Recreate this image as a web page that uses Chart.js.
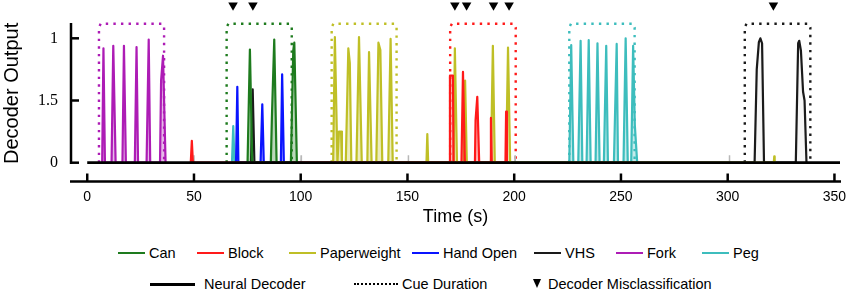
<!DOCTYPE html>
<html>
<head>
<meta charset="utf-8">
<script src="https://cdn.jsdelivr.net/npm/chart.js@4.4.1/dist/chart.umd.min.js"></script>
<style>
  html, body { margin: 0; padding: 0; background: #fff; }
  #wrap { position: relative; width: 851px; height: 292px; overflow: hidden; }
  #chart { position: absolute; left: 0; top: 0; }
  .txt { position: absolute; font-family: "Liberation Sans", Arial, sans-serif; font-size: 14.5px; line-height: 16px; color: #000; white-space: nowrap; }
  .sw { position: absolute; height: 0; }
</style>
</head>
<body>
<div id="wrap">
  <canvas id="chart" width="851" height="230"></canvas>
  <div id="legend"></div>
</div>
<script>
// --- data (time in s, decoder output) ---
const xTicks = [0, 50, 100, 150, 200, 250, 300, 350];
const yTickValues = [0, 0.5, 1];
const yTickLabels = ['0', '1.5', '1'];
const yAxisTop = 1.123;

const classNames = ['Can', 'Block', 'Paperweight', 'Hand Open', 'VHS', 'Fork', 'Peg'];
const classColors = ['#1e7b1e', '#ff1a1a', '#bfbf26', '#0a14ff', '#1a1a1a', '#ad1cb5', '#3dbdbd'];
const classFills = ['rgba(30,123,30,0.3)', 'rgba(255,26,26,0.3)', 'rgba(191,191,38,0.3)', 'rgba(10,20,255,0.3)', 'rgba(26,26,26,0.04)', 'rgba(173,28,181,0.3)', 'rgba(61,189,189,0.3)'];

const canTrace = [
  [75.1, 0], [76.2, 0.91], [77.3, 0],
  [86.0, 0], [86.5, 0.36], [87.6, 0.99], [88.7, 0],
  [95.4, 0], [96.5, 0.9], [97.0, 0.965], [98.2, 0]
];
const blockTrace = [
  [48.5, 0], [49.0, 0.175], [49.5, 0],
  [169.7, 0], [169.9, 0.70], [171.3, 0.70], [171.6, 0],
  [175.3, 0], [176.0, 0.73], [176.9, 0],
  [181.6, 0], [181.9, 0.34], [182.7, 0.53], [183.6, 0],
  [188.8, 0], [189.1, 0.36], [189.5, 0],
  [195.9, 0], [196.2, 0.41], [196.6, 0]
];
const paperweightTrace = [
  [115.2, 0], [116.0, 1.01], [117.2, 0], [117.9, 0.25], [118.9, 0.25], [119.3, 0],
  [121.1, 0], [122.3, 0.92], [123.0, 0.8], [123.7, 0],
  [126.1, 0], [127.3, 1.01], [128.6, 0],
  [131.2, 0], [132.0, 0.89], [133.2, 0],
  [135.4, 0], [136.4, 0.965], [137.3, 0.905], [138.2, 0],
  [141.0, 0], [142.1, 0.995], [143.1, 0],
  [158.9, 0], [159.3, 0.23], [159.7, 0],
  [171.6, 0], [172.2, 0.92], [173.2, 0],
  [176.4, 0], [177.0, 0.66], [177.8, 0],
  [189.1, 0], [190.0, 0.94], [190.9, 0],
  [196.2, 0], [197.1, 0.925], [198.1, 0],
  [321.6, 0], [321.8, 0.05], [322.0, 0]
];
const handOpenTrace = [
  [69.7, 0], [70.3, 0.61], [70.8, 0],
  [81.2, 0], [82.0, 0.47], [82.7, 0],
  [90.7, 0], [91.3, 0.71], [92.1, 0]
];
const vhsTrace = [
  [76.7, 0], [77.5, 0.59], [78.3, 0],
  [312.6, 0], [313.6, 0.75], [314.6, 0.97], [315.3, 1.0], [316.1, 0.96], [317.0, 0],
  [331.9, 0], [333.0, 0.96], [333.5, 0.98], [334.3, 0.9], [335.3, 0.57], [336.0, 0.5], [336.9, 0]
];
const forkTrace = [
  [7.0, 0], [7.6, 0.92], [8.3, 0],
  [11.4, 0], [12.2, 0.94], [13.3, 0],
  [16.5, 0], [17.2, 0.94], [18.1, 0],
  [22.3, 0], [23.1, 0.93], [23.8, 0],
  [27.8, 0], [28.8, 0.99], [29.5, 0],
  [34.1, 0], [34.6, 0.66], [35.5, 0.86], [36.7, 0]
];
const pegTrace = [
  [67.8, 0], [68.4, 0.295], [69.0, 0],
  [225.8, 0], [226.7, 0.946], [227.7, 0],
  [230.0, 0], [231.1, 0.98], [231.9, 0],
  [233.9, 0], [234.9, 0.985], [235.8, 0],
  [238.1, 0], [239.0, 0.96], [240.0, 0],
  [242.0, 0], [243.1, 0.94], [243.9, 0],
  [246.7, 0], [248.0, 0.955], [248.6, 0],
  [251.2, 0], [252.2, 1.0], [253.2, 0],
  [254.8, 0], [255.7, 0.94], [256.5, 0.3], [257.6, 0]
];
const restTrace = [
  [49.9, 0], [50.0, 0.06], [50.1, 0],
  [100.1, 0], [100.2, 0.06], [100.3, 0],
  [150.3, 0], [150.4, 0.06], [150.5, 0],
  [200.3, 0], [200.4, 0.06], [200.5, 0],
  [300.7, 0], [300.8, 0.06], [300.9, 0]
];
const traces = [canTrace, blockTrace, paperweightTrace, handOpenTrace, vhsTrace, forkTrace, pegTrace];

// cue windows: [start, end, class index]
const cueWindows = [
  [5.5, 36.0, 5],
  [65.3, 95.8, 0],
  [114.5, 144.9, 2],
  [170.0, 200.7, 1],
  [225.8, 256.4, 6],
  [308.0, 338.7, 4]
];
const cueTop = 1.117;

const decoderSpan = [0, 352.6];
const misclassTimes = [68.3, 77.6, 172.2, 177.7, 190.3, 197.6, 321.4];
const misclassLevel = 1.265;

// --- datasets ---
const toXY = pts => pts.map(p => ({ x: p[0], y: p[1] }));
const datasets = [];

datasets.push({
  label: 'Decoder Misclassification',
  data: misclassTimes.map(t => ({ x: t, y: misclassLevel })),
  showLine: false,
  pointStyle: 'triangle',
  pointRotation: 180,
  pointRadius: 5.5,
  pointBackgroundColor: '#000',
  pointBorderColor: '#000',
  pointBorderWidth: 0
});

datasets.push({
  label: 'Neural Decoder',
  data: decoderSpan.map(t => ({ x: t, y: 0 })),
  borderColor: '#000',
  borderWidth: 3,
  pointRadius: 0
});

traces.forEach((tr, i) => {
  datasets.push({
    label: classNames[i],
    data: toXY(tr),
    borderColor: classColors[i],
    backgroundColor: classFills[i],
    fill: 'origin',
    borderWidth: 2.2,
    borderJoinStyle: 'round',
    pointRadius: 0
  });
});
datasets.push({ label: 'rest', data: toXY(restTrace), borderColor: '#b8b8b8', borderWidth: 1.5, pointRadius: 0 });

cueWindows.forEach(w => {
  const [s, e, c] = w;
  datasets.push({
    label: 'Cue ' + classNames[c],
    data: toXY([[s, 0], [s, cueTop - 0.03], [s + 0.8, cueTop], [e - 0.8, cueTop], [e, cueTop - 0.03], [e, 0]]),
    borderColor: classColors[c],
    borderWidth: 2.4,
    borderDash: [2.4, 5.2],
    borderCapStyle: 'butt',
    pointRadius: 0
  });
});

// --- axis lines and inward ticks, placed through the scales ---
const axisMarks = {
  id: 'axisMarks',
  afterDraw(chart) {
    const { ctx, chartArea, scales } = chart;
    const x = scales.x, y = scales.y;
    ctx.save();
    ctx.strokeStyle = '#000';
    ctx.lineWidth = 2.5;
    const left = chartArea.left;
    ctx.beginPath(); ctx.moveTo(left, y.getPixelForValue(yAxisTop)); ctx.lineTo(left, chartArea.bottom); ctx.stroke();
    yTickValues.forEach(v => {
      const py = y.getPixelForValue(v);
      ctx.beginPath(); ctx.moveTo(left, py); ctx.lineTo(left + 8, py); ctx.stroke();
    });
    const axisY = chartArea.bottom + 17.5;
    ctx.beginPath(); ctx.moveTo(left - 1, axisY); ctx.lineTo(chartArea.right + 1, axisY); ctx.stroke();
    xTicks.forEach(v => {
      const px = x.getPixelForValue(v);
      ctx.beginPath(); ctx.moveTo(px, axisY); ctx.lineTo(px, axisY - 8); ctx.stroke();
    });
    ctx.restore();
  }
};

new Chart(document.getElementById('chart').getContext('2d'), {
  type: 'line',
  data: { datasets },
  options: {
    responsive: false,
    animation: false,
    events: [],
    layout: { padding: { top: 0, right: 11, left: 0, bottom: 0 }, autoPadding: false },
    plugins: { legend: { display: false }, tooltip: { enabled: false } },
    elements: { line: { tension: 0 } },
    scales: {
      x: {
        type: 'linear',
        min: -7.6,
        max: 352.6,
        afterBuildTicks: s => { s.ticks = xTicks.map(v => ({ value: v })); },
        afterFit: s => { s.height = 66; s.paddingLeft = 0; s.paddingRight = 0; },
        grid: { display: false, drawTicks: false },
        border: { display: false },
        ticks: { color: '#000', padding: 24.6, maxRotation: 0, font: { family: 'Liberation Sans', size: 14 } },
        title: { display: true, text: 'Time (s)', color: '#000', font: { family: 'Liberation Sans', size: 18 }, padding: { top: 0, bottom: 2.2 } }
      },
      y: {
        min: -0.0105,
        max: 1.308,
        afterBuildTicks: s => { s.ticks = yTickValues.map(v => ({ value: v })); },
        afterFit: s => { s.width = 71; s.paddingTop = 0; s.paddingBottom = 0; },
        grid: { display: false, drawTicks: false },
        border: { display: false },
        ticks: {
          color: '#000',
          padding: 13,
          font: { family: 'Liberation Serif', size: 16 },
          callback: v => yTickLabels[yTickValues.indexOf(v)]
        },
        title: { display: true, text: 'Decoder Output', align: 'start', color: '#000', font: { family: 'Liberation Sans', size: 20 }, padding: { top: 0, bottom: 0 } }
      }
    }
  },
  plugins: [axisMarks]
});

// --- legend (HTML) ---
const legend = document.getElementById('legend');
const row1Y = 253, row2Y = 284;
const row1Left = [118, 197, 289, 412, 534, 616, 702];
function addText(text, left, cy) {
  const d = document.createElement('div');
  d.className = 'txt';
  d.textContent = text;
  d.style.left = left + 'px';
  d.style.top = (cy - 8) + 'px';
  legend.appendChild(d);
}
function addLine(left, cy, width, style) {
  const d = document.createElement('div');
  d.className = 'sw';
  d.style.left = left + 'px';
  d.style.width = width + 'px';
  d.style.top = cy + 'px';
  d.style.borderTop = style;
  legend.appendChild(d);
}
classNames.forEach((n, i) => {
  addLine(row1Left[i], row1Y - 1, 27, '2px solid ' + classColors[i]);
  addText(n, row1Left[i] + 31, row1Y);
});
addLine(150, row2Y - 1.5, 45, '3px solid #000');
addText('Neural Decoder', 204, row2Y);
addLine(354, row2Y - 1, 44, '2px dotted #000');
addText('Cue Duration', 402, row2Y);
const tri = document.createElement('div');
tri.style.cssText = 'position:absolute;left:533px;top:' + (row2Y - 5) + 'px;width:0;height:0;border-left:4px solid transparent;border-right:4px solid transparent;border-top:9px solid #000;';
legend.appendChild(tri);
addText('Decoder Misclassification', 548, row2Y);
</script>
</body>
</html>
